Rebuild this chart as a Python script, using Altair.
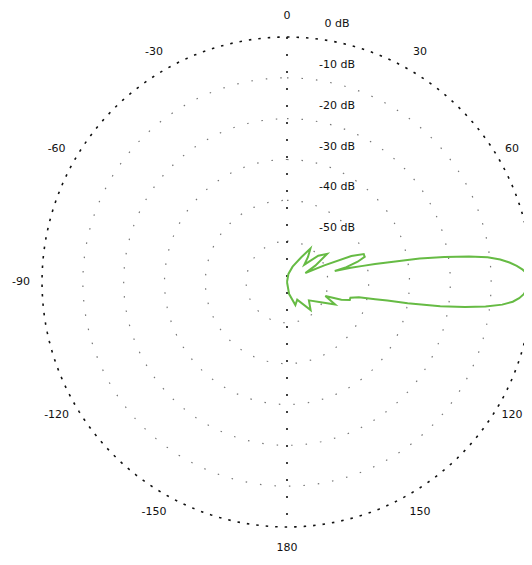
import altair as alt
import pandas as pd
import numpy as np

# ---- data ----
ring_levels = [-50, -40, -30, -20, -10, 0]
ring_labels = ["-50 dB", "-40 dB", "-30 dB", "-20 dB", "-10 dB", "0 dB"]
angle_ticks = [0, 30, 60, 120, 150, 180, 210, 240, 270, 300, 330]
angle_labels = ["0", "30", "60", "120", "150", "180", "-150", "-120", "-90", "-60", "-30"]

# pattern (offset from boresight at 90 deg, gain in dB)
upper_off = [0, 1, 2, 3, 4, 5, 6, 7, 8, 9, 10, 10.5, 11, 11.5, 12, 12.5, 13, 14, 16, 18, 20, 22, 24, 26,
             30, 35, 40, 45, 50, 55, 60, 70, 80, 90]
upper_db = [0, -0.5, -1.2, -2.2, -3.6, -5.3, -7.5, -10.5, -15, -21, -27, -31, -35, -38, -41, -44, -48,
            -45, -42, -40, -40, -43, -50, -55, -52, -48, -50, -54, -52, -50, -53, -56, -58, -60]
lower_off = [0, 1, 2, 3, 4, 5, 6, 7, 8, 9, 10, 10.5, 11, 12, 14, 16, 18, 20, 25, 30, 40, 50, 60, 70, 80, 90]
lower_db = [0, -0.6, -1.3, -2.0, -3.0, -4.5, -7, -11, -16, -22, -30, -35, -38, -42, -44, -44, -46, -50,
            -47, -50, -53, -51, -55, -54, -57, -60]

DB_MIN = -60.0

# ---- tables ----
pat_ang = [90 - o for o in upper_off[::-1]] + [90 + o for o in lower_off]
pat_db = upper_db[::-1] + lower_db
pattern = pd.DataFrame({"ang": pat_ang, "db": pat_db, "i": range(len(pat_ang))})

circ = np.arange(0, 362, 2)
rings = pd.DataFrame([{"level": lv, "ang": float(a), "i": k}
                      for lv in ring_levels for k, a in enumerate(circ)])
outer = rings[rings.level == 0]
inner = rings[rings.level != 0]

ax_df = pd.DataFrame({"ang": [0, 180], "db": [0, 0]})
ang_lab = pd.DataFrame({"ang": angle_ticks, "label": angle_labels})
ring_lab = pd.DataFrame({"db": ring_levels, "label": ring_labels})

W, H = 516, 549
R = 245.0
cx, cy = 279.0, 274.0
xs = alt.Scale(domain=[-cx / R, (W - cx) / R], nice=False, zero=False)
ys = alt.Scale(domain=[-(H - cy) / R, cy / R], nice=False, zero=False)

def polar(ch, ang="datum.ang", db="datum.db"):
    return ch.transform_calculate(
        r=f"max(0, ({db} - ({DB_MIN})) / {-DB_MIN})"
    ).transform_calculate(
        x=f"datum.r * sin({ang} * PI / 180)",
        y=f"datum.r * cos({ang} * PI / 180)",
    )

X = alt.X("x:Q", scale=xs, axis=None)
Y = alt.Y("y:Q", scale=ys, axis=None)

inner_l = polar(alt.Chart(inner), db="datum.level").mark_line(
    color="#777", strokeWidth=1.2, strokeDash=[1.5, 13]
).encode(x=X, y=Y, detail="level:N", order="i:Q")

outer_l = polar(alt.Chart(outer), db="datum.level").mark_line(
    color="#111", strokeWidth=1.6, strokeDash=[2.5, 7]
).encode(x=X, y=Y, order="i:Q")

axis_l = polar(alt.Chart(ax_df)).mark_line(
    color="#111", strokeWidth=1.6, strokeDash=[2, 15]
).encode(x=X, y=Y, order="ang:Q")

pat_l = polar(alt.Chart(pattern)).mark_line(
    color="#66bb44", strokeWidth=2
).encode(x=X, y=Y, order="i:Q")

xmax_lab = (W - cx - 12) / R
alab = alt.Chart(ang_lab).transform_calculate(
    x=f"min({xmax_lab}, {266 / R} * sin(datum.ang * PI / 180))",
    y=f"{266 / R} * cos(datum.ang * PI / 180)",
).mark_text(fontSize=11, font="DejaVu Sans", color="#111", align="center", baseline="middle").encode(
    x=X, y=Y, text="label:N")

rlab = alt.Chart(ring_lab).transform_calculate(
    x=f"{50 / R}",
    y=f"(datum.db - ({DB_MIN})) / {-DB_MIN} + {13 / R}",
).mark_text(fontSize=11, font="DejaVu Sans", color="#111", align="center", baseline="middle").encode(
    x=X, y=Y, text="label:N")

chart = alt.layer(inner_l, outer_l, axis_l, pat_l, alab, rlab).properties(
    width=W, height=H, padding=0, autosize="none"
).configure_view(stroke=None)

chart.save("out.html", embed_options={"renderer": "svg", "actions": False})
